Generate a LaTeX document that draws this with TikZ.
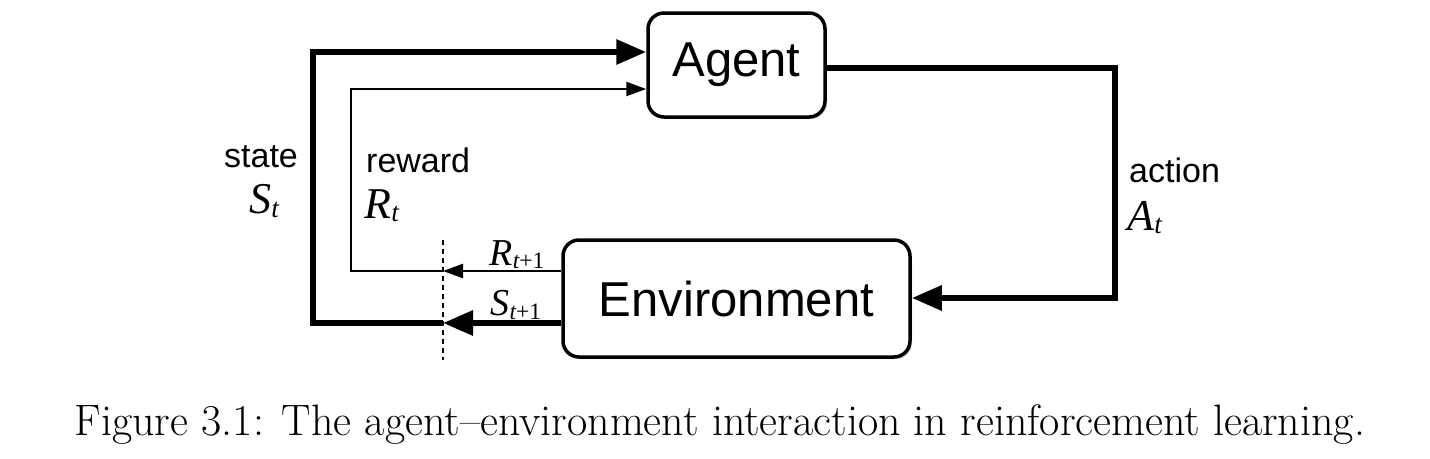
\documentclass[tikz,border=0pt]{standalone}
\usepackage{fontspec}
\newfontfamily\arial{Liberation Sans}
\newfontfamily\tms{Liberation Serif}
\usetikzlibrary{arrows.meta,shadows}
\newcommand{\mvar}[3]{{\fontsize{#3}{#3}\tms\itshape #1}\kern0.04em\raisebox{-0.32em}{\fontsize{#3}{#3}\tms\scalebox{0.62}{#2}}}
\begin{document}
\begin{tikzpicture}[x=1pt,y=-1pt,
  box/.style={draw,line width=3.5pt,rounded corners=16pt,fill=white,
    font=\fontsize{49}{49}\arial,inner sep=0pt,
    drop shadow={opacity=0.35,shadow xshift=2pt,shadow yshift=-2pt}},
  thickline/.style={line width=6pt},
  thinline/.style={line width=2.4pt},
  bigtip/.style={-{Triangle[length=30pt,width=24pt]}},
  smalltip/.style={-{Triangle[length=20pt,width=14pt]}},
  lbl/.style={font=\fontsize{34}{34}\arial,inner sep=0pt}]
\useasboundingbox (0,0) rectangle (1430,458);
\node[box,minimum width=177pt,minimum height=104pt] (agent) at (736.5,65) {Agent};
\node[box,minimum width=347pt,minimum height=117pt] (env) at (736.5,298.5) {Environment};
\coordinate (dtop) at (443,240);
\coordinate (dbot) at (443,360);
\coordinate (dr) at (443,271);
\coordinate (ds) at (443,323);
\coordinate (sc1) at (313,323);
\coordinate (sc2) at (313,52);
\coordinate (rc1) at (351,271);
\coordinate (rc2) at (351,89);
\coordinate (ac1) at (1115,68);
\coordinate (ac2) at (1115,298);
\draw[dashed,line width=1.5pt,dash pattern=on 5pt off 4pt] (dtop) -- (dbot);
% S_{t+1}
\draw[thickline,bigtip] (env.west |- ds) -- (ds);
\draw[thickline,bigtip] (ds) -- (sc1) -- (sc2) -- (sc2 -| agent.west);
% R_{t+1}
\draw[thinline,smalltip] (env.west |- dr) -- (dr);
\draw[thinline,smalltip] (dr) -- (rc1) -- (rc2) -- (rc2 -| agent.west);
% action
\draw[thickline,bigtip] (agent.east |- ac1) -- (ac1) -- (ac2) -- (ac2 -| env.east);
% labels
\node[lbl] (lstate) at (261,157) {state};
\node[inner sep=0pt] (lst) at (264,201) {\mvar{S}{\itshape t}{44}};
\node[lbl,anchor=west] (lreward) at (366,160) {reward};
\node[inner sep=0pt,anchor=west] (lrt) at (364,206) {\mvar{R}{\itshape t}{44}};
\node[lbl,anchor=west] (laction) at (1129,170) {action};
\node[inner sep=0pt,anchor=west] (lat) at (1127,218) {\mvar{A}{\itshape t}{44}};
\node[inner sep=0pt,anchor=west] (lr1) at (489,255) {\mvar{R}{{\itshape t}+1}{38}};
\node[inner sep=0pt,anchor=west] (ls1) at (490,305) {\mvar{S}{{\itshape t}+1}{38}};
\node[inner sep=0pt] (cap) at (720,425) {\fontsize{44}{44}\selectfont Figure 3.1: The agent--environment interaction in reinforcement learning.};
\end{tikzpicture}
\end{document}
